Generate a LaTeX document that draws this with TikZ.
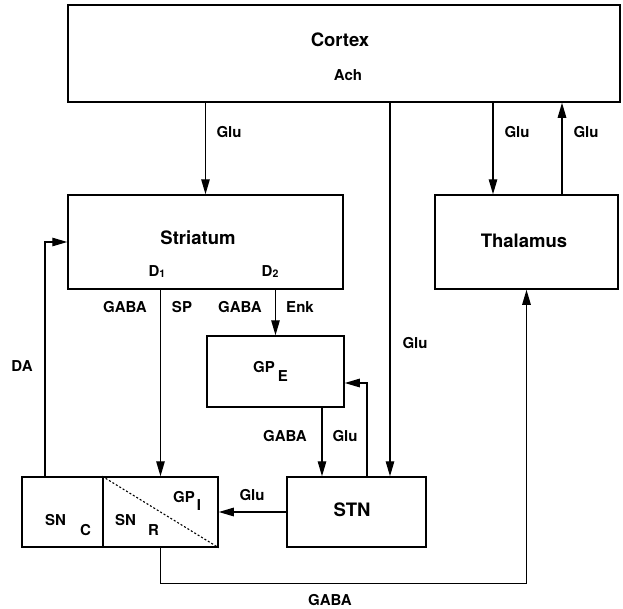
\documentclass[tikz,border=0pt]{standalone}
\usepackage{fontspec}
\setmainfont{TeX Gyre Heros}
\usetikzlibrary{arrows.meta}
\begin{document}
\begin{tikzpicture}[x=1pt,y=-1pt,
  box/.style={draw, line width=1.5pt, inner sep=0pt},
  big/.style={font=\fontsize{18.5}{20}\selectfont\bfseries, inner sep=0pt},
  lbl/.style={font=\fontsize{15}{16}\selectfont\bfseries, inner sep=0pt},
  arr/.style={line width=1.3pt, -{Triangle[length=15pt,width=8.5pt]}},
  ln/.style={line width=1.3pt}]
\useasboundingbox (0,0) rectangle (623,608);
% boxes
\node[box, minimum width=552pt, minimum height=97pt] (cortex) at (344,53.5) {};
\node[box, minimum width=275pt, minimum height=94pt] (striatum) at (205.5,242) {};
\node[box, minimum width=183pt, minimum height=94pt] (thalamus) at (526.5,242) {};
\node[box, minimum width=137pt, minimum height=71pt] (gpe) at (275.5,371.5) {};
\node[box, minimum width=139pt, minimum height=70pt] (stn) at (356.5,512) {};
\node[box, minimum width=81pt, minimum height=70pt] (snc) at (62.5,512) {};
\node[box, minimum width=115pt, minimum height=70pt] (snr) at (160.5,512) {};
\draw[line width=1.1pt, dash pattern=on 2pt off 2pt] (snr.north west) -- (snr.south east);
% box texts
\node[big] (tcortex) at (340,40) {Cortex};
\node[lbl] (tach) at (348,75) {Ach};
\node[big] (tstriatum) at (198,238) {Striatum};
\node[lbl] (td1) at (157,272) {D\raisebox{-1pt}{\fontsize{10.5}{10}\selectfont 1}};
\node[lbl] (td2) at (270,272) {D\raisebox{-1pt}{\fontsize{10.5}{10}\selectfont 2}};
\node[big] (tthalamus) at (524,241) {Thalamus};
\node[big] (tstn) at (352,510) {STN};
\node[lbl, anchor=base west] (tgpe) at (253,372) {GP\hspace{3pt}\raisebox{-9pt}{E}};
\node[lbl, anchor=base west] (tsnc) at (45,525) {SN\hspace{14pt}\raisebox{-10pt}{C}};
\node[lbl, anchor=base west] (tsnr) at (115,525) {SN\hspace{12pt}\raisebox{-10pt}{R}};
\node[lbl, anchor=base west] (tgpi) at (173,502) {GP\hspace{2pt}\raisebox{-8pt}{I}};
% connectors
\draw[arr] (striatum.north |- cortex.south) -- (striatum.north);
\draw[arr] ([xshift=-33.5pt]thalamus.north |- cortex.south) -- ([xshift=-33.5pt]thalamus.north);
\draw[arr] ([xshift=35.5pt]thalamus.north) -- ([xshift=35.5pt]thalamus.north |- cortex.south);
\draw[arr] ([xshift=33.5pt]stn.north |- cortex.south) -- ([xshift=33.5pt]stn.north);
\draw[arr] (snr.north |- striatum.south) -- (snr.north);
\draw[arr] (gpe.north |- striatum.south) -- (gpe.north);
\draw[arr] ([xshift=-34.5pt]stn.north |- gpe.south) -- ([xshift=-34.5pt]stn.north);
\draw[arr] ([xshift=10.5pt]stn.north) |- ([yshift=-11.5pt]gpe.east);
\draw[arr] (stn.west) -- (snr.east);
\draw[arr] ([xshift=-17.5pt]snc.north) |- (striatum.west);
\draw[arr] (snr.south) -- ++(0,36) -| (thalamus.south);
% connector labels
\node[lbl] (lglu1) at (229,132) {Glu};
\node[lbl] (lglu2) at (517,132) {Glu};
\node[lbl] (lglu3) at (586,132) {Glu};
\node[lbl] (lglu4) at (415,343) {Glu};
\node[lbl] (lgaba1) at (125,307) {GABA};
\node[lbl] (lsp) at (182,307) {SP};
\node[lbl] (lgaba2) at (240,307) {GABA};
\node[lbl] (lenk) at (300,307) {Enk};
\node[lbl] (lgaba3) at (285,436) {GABA};
\node[lbl] (lglu5) at (345,436) {Glu};
\node[lbl] (lglu6) at (252,495) {Glu};
\node[lbl] (lda) at (22,366) {DA};
\node[lbl] (lgaba4) at (330,600) {GABA};
\end{tikzpicture}
\end{document}
